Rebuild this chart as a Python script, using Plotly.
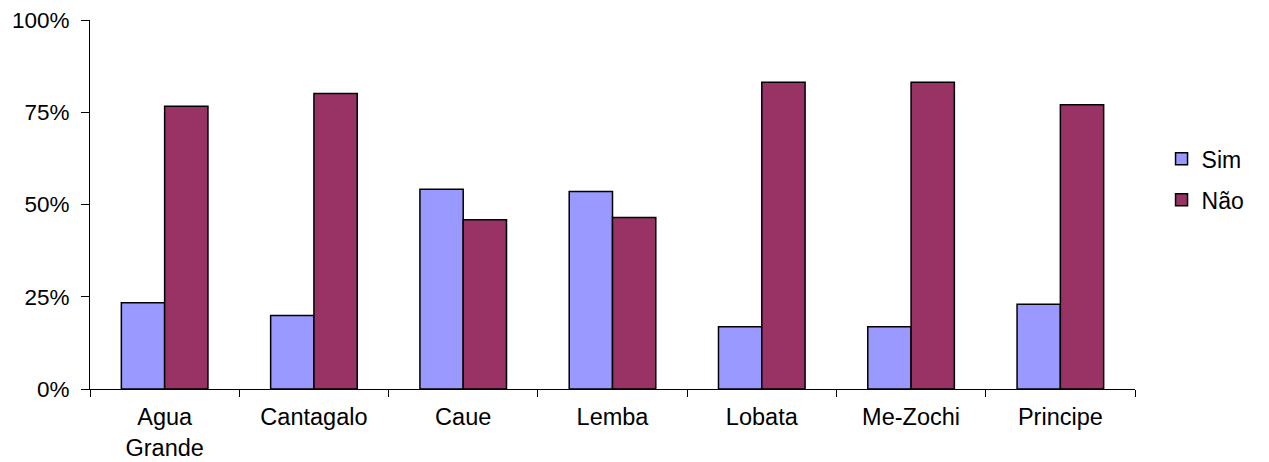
import plotly.graph_objects as go

categories = ["Agua<br>Grande", "Cantagalo", "Caue", "Lemba", "Lobata", "Me-Zochi", "Principe"]
sim = [23.4, 19.9, 54.1, 53.5, 16.9, 16.9, 23.0]
nao = [76.6, 80.1, 45.9, 46.5, 83.1, 83.1, 77.0]
y_ticks = [0, 25, 50, 75, 100]
y_labels = ["0%", "25%", "50%", "75%", "100%"]

fig = go.Figure()
fig.add_trace(go.Bar(name="Sim", x=categories, y=sim, legendgroup="a",
                     marker=dict(color="#9999FF", line=dict(color="black", width=1.5))))
fig.add_trace(go.Bar(name="Não", x=categories, y=nao, legendgroup="b",
                     marker=dict(color="#993366", line=dict(color="black", width=1.5))))

fig.update_layout(
    width=1269, height=462,
    margin=dict(l=90, r=134, t=20, b=73),
    paper_bgcolor="white", plot_bgcolor="white",
    font=dict(family="Liberation Sans, Arial, sans-serif", size=23, color="black"),
    barmode="group", bargap=0.42, bargroupgap=0,
    showlegend=True,
    legend=dict(x=1.0254, y=0.568, xanchor="left", yanchor="middle",
                tracegroupgap=8, font=dict(size=23)),
    xaxis=dict(showline=True, linecolor="black", linewidth=1,
               ticks="outside", tickson="boundaries", ticklen=7, tickcolor="black",
               tickfont=dict(size=23.5), ticklabelstandoff=7,
               showgrid=False, automargin=False),
    yaxis=dict(range=[0, 100], tickvals=y_ticks, ticktext=y_labels,
               showline=True, linecolor="black", linewidth=1,
               ticks="outside", ticklen=8, tickcolor="black",
               tickfont=dict(size=22.5), ticklabelstandoff=7,
               showgrid=False, zeroline=False, automargin=False),
)

fig.write_html("out.html", config={"displayModeBar": False},
               post_script="document.body.style.margin='0';")
